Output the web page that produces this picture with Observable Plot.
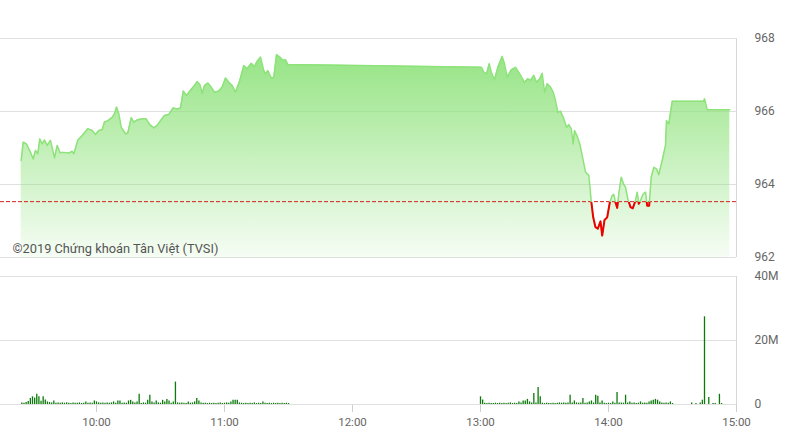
<!DOCTYPE html>
<html><head><meta charset="utf-8">
<script src="https://cdn.jsdelivr.net/npm/d3@7"></script>
<script src="https://cdn.jsdelivr.net/npm/@observablehq/plot@0.6"></script>
<style>
body{margin:0;background:#fff;font-family:Roboto,sans-serif;}
#chart{width:792px;height:445px;overflow:hidden;background:#fff}
#chart svg{display:block}
</style></head><body><div id="chart"></div>
<script>
const indexTimes = [
"09:24:42","09:25:38","09:27:11","09:29:04","09:30:20","09:31:24","09:32:29","09:33:25","09:34:33","09:35:38",
"09:36:53","09:38:26","09:40:19","09:41:35","09:42:48","09:44:40","09:47:01","09:48:37","09:49:22","09:51:14",
"09:53:18","09:55:55","09:57:59","09:59:32","10:01:05","10:02:40","10:03:45","10:05:18","10:07:22","10:08:26",
"10:09:23","10:10:27","10:11:35","10:13:36","10:14:40","10:16:16","10:17:29","10:19:05","10:21:25","10:23:18",
"10:24:59","10:26:51","10:28:27","10:30:00","10:31:53","10:33:53","10:35:57","10:37:50","10:39:23","10:40:38",
"10:42:11","10:44:04","10:45:37","10:47:12","10:48:25","10:49:33","10:50:38","10:52:10","10:53:46","10:55:19",
"10:57:20","10:58:55","11:00:28","11:02:01","11:03:37","11:05:09","11:07:10","11:09:03","11:10:38","11:12:31",
"11:14:04","11:15:20","11:16:53","11:18:25","11:19:13","11:20:18","11:21:53","11:23:07","11:24:23","11:25:55",
"11:27:31","11:28:36","11:29:40",
"13:00:28","13:01:33","13:02:49","13:04:05","13:05:01","13:06:34","13:08:07","13:10:10","13:11:15","13:12:31",
"13:14:23","13:16:24","13:18:25","13:20:38","13:22:10","13:23:26","13:24:59","13:26:15","13:27:48","13:28:55",
"13:30:00","13:31:16","13:32:49","13:34:05","13:35:09","13:36:14","13:37:30","13:39:03","13:40:19","13:41:23",
"13:42:31","13:43:27","13:44:04","13:45:20","13:46:33","13:48:08","13:49:13","13:50:46","13:51:53","13:52:50",
"13:53:54","13:54:59","13:56:15","13:57:03","13:58:08","13:59:23","14:00:37","14:01:44","14:02:29","14:03:17",
"14:04:05","14:04:50","14:05:57","14:07:10","14:07:58","14:09:03","14:10:19","14:11:23","14:12:39","14:13:27",
"14:14:12","14:15:00","14:16:16","14:17:21","14:18:08","14:19:04","14:20:01","14:21:14","14:22:30","14:23:35",
"14:25:10","14:26:43","14:27:11","14:28:16","14:29:51","14:44:40","14:45:00","14:46:16","14:56:52"];
const indexValues = [
964.66,965.16,965.11,964.88,964.70,964.93,964.84,965.25,965.11,965.22,
965.07,965.21,964.73,965.07,964.88,964.88,964.86,964.91,964.84,965.21,
965.34,965.53,965.48,965.37,965.48,965.50,965.71,965.75,965.84,965.94,
966.12,965.94,965.57,965.39,965.41,965.83,965.71,965.77,965.80,965.80,
965.64,965.55,965.62,965.75,965.89,965.92,966.10,966.07,966.10,966.56,
966.44,966.58,966.69,966.82,966.74,966.50,966.71,966.78,966.67,966.53,
966.56,966.67,966.92,966.80,966.71,966.53,966.85,967.26,967.17,967.32,
967.23,967.38,967.49,967.12,967.03,967.12,966.92,966.94,967.56,967.49,
967.40,967.42,967.29,
967.21,967.08,967.03,967.31,967.08,966.87,967.21,967.51,967.31,966.94,
967.14,967.21,967.03,966.80,966.90,966.85,966.99,966.80,966.90,967.05,
966.53,966.76,966.67,966.53,966.30,965.98,966.01,965.80,965.57,965.64,
965.53,965.11,965.48,965.32,965.11,964.66,964.34,964.25,963.56,963.10,
962.83,962.79,962.99,962.60,963.03,963.10,963.51,963.70,963.73,963.51,
963.36,963.74,964.20,964.00,963.93,963.61,963.38,963.35,963.56,963.79,
963.47,963.56,963.74,963.79,963.42,963.42,964.20,964.47,964.43,964.27,
964.66,965.07,965.75,965.66,966.28,966.28,966.35,966.05,966.05];
const referenceLevel = 963.53;
const priceTicks = [962, 964, 966, 968];
const volumeTicks = [0, 20, 40];
const hourTicks = ["10:00","11:00","12:00","13:00","14:00","15:00"];
const sessionStart = "09:15", sessionEnd = "15:00";

// volume in millions, one bar per minute
const volMorningStart = "09:25";
const volMorning = [
0.5,0.4,0.6,0.9,1.9,2.4,2.0,3.2,2.4,1.0,
2.4,1.4,0.8,0.6,0.5,1.1,0.4,0.5,0.4,0.5,
0.4,0.5,0.4,0.3,0.5,0.4,0.4,0.5,0.3,0.4,
0.8,0.4,0.5,0.4,1.1,0.8,0.5,0.4,0.5,0.4,
0.5,0.4,0.5,0.8,0.4,1.1,1.1,0.4,0.5,0.4,
1.1,1.3,0.8,0.5,0.8,3.2,0.3,0.5,0.4,1.3,
2.9,0.8,0.5,1.1,0.5,0.4,1.3,0.8,1.6,1.1,
0.4,0.8,7.0,0.5,0.4,0.5,0.4,0.3,0.8,0.4,
0.5,0.8,1.9,1.1,0.5,0.4,0.4,0.3,0.4,0.3,
0.4,0.3,0.4,0.5,0.3,0.4,0.5,0.4,0.8,1.3,
1.3,1.3,0.5,0.4,0.3,0.4,0.3,0.4,0.3,0.5,
0.3,0.4,0.3,0.8,0.4,0.3,0.4,0.3,0.4,0.3,
0.4,0.3,0.4,0.3,0.4,0.3];
const volAfternoonStart = "13:00";
const volAfternoon = [
2.4,1.4,0.4,0.3,0.4,0.3,0.3,0.4,0.3,0.4,
0.3,0.4,0.3,0.4,0.5,0.3,0.4,0.3,0.8,0.5,
1.1,1.1,1.6,0.8,0.5,3.4,0.5,5.3,2.4,0.4,
0.3,0.4,0.3,0.3,0.4,0.3,0.4,0.5,0.4,0.5,
0.4,0.5,2.9,0.5,1.1,0.5,0.4,0.5,1.9,0.4,
0.5,0.8,1.1,0.5,2.9,2.6,0.5,1.1,0.4,0.3,
0.4,0.3,0.8,0.4,3.75,0.5,0.5,0.4,2.9,0.5,
0.8,0.4,0.5,0.3,0.4,0.8,0.4,0.5,0.4,0.8,
1.1,1.35,1.6,1.35,0.8,0.5,0.4,0.5,0.4,0.8,
0.3];
const volCloseTimes = ["14:39","14:41","14:43","14:44","14:45","14:47","14:49","14:50","14:52","14:53"];
const volClose = [0.5,0.3,0.5,1.35,27.4,2.2,0.3,0.3,3.2,0.3];
const copyright = "©2019 Chứng khoán Tân Việt (TVSI)";

const parseT = s => new Date("2019-01-01T" + (s.length === 5 ? s + ":00" : s) + "Z");
const addMin = (s, i) => new Date(parseT(s).getTime() + i * 60000);
const xDomain = [parseT(sessionStart), parseT(sessionEnd)];

const series = indexTimes.map((t, i) => ({t: parseT(t), v: indexValues[i]}));
const volume = [
  ...volMorning.map((v, i) => ({t: addMin(volMorningStart, i), v})),
  ...volAfternoon.map((v, i) => ({t: addMin(volAfternoonStart, i), v})),
  ...volClose.map((v, i) => ({t: parseT(volCloseTimes[i]), v}))
];

const defsMark = (index, scales, values, dim) => {
  const refY = scales.y(referenceLevel);
  const off = (refY / dim.height).toFixed(4);
  const g = document.createElementNS("http://www.w3.org/2000/svg", "defs");
  g.innerHTML = `<linearGradient id="areaFill" x1="0" y1="0" x2="0" y2="1">
      <stop offset="0" stop-color="#8de27a" stop-opacity="0.92"/>
      <stop offset="1" stop-color="#8de27a" stop-opacity="0.08"/>
    </linearGradient>
    <linearGradient id="redBelow" gradientUnits="userSpaceOnUse" x1="0" y1="0" x2="0" y2="${dim.height}">
      <stop offset="${off}" stop-color="#ee0000" stop-opacity="0"/>
      <stop offset="${off}" stop-color="#ee0000" stop-opacity="1"/>
    </linearGradient>`;
  return g;
};

const baseStyle = {fontFamily: "Roboto, sans-serif", fontSize: "12px", color: "#666", background: "#fff", overflow: "visible"};

const topPlot = Plot.plot({
  width: 792, height: 265, marginTop: 38, marginBottom: 8, marginLeft: 0, marginRight: 56,
  style: baseStyle,
  x: {type: "utc", domain: xDomain, axis: null},
  y: {domain: [962, 968], axis: "right", ticks: priceTicks, tickFormat: d => String(d), tickSize: 0, tickPadding: 18, label: null},
  marks: [
    defsMark,
    Plot.ruleY(priceTicks, {stroke: "#e0e0e0"}),
    Plot.areaY(series, {x: "t", y1: 962, y2: "v", fill: "url(#areaFill)"}),
    Plot.ruleX([xDomain[1]], {stroke: "#d8d8d8"}),
    Plot.ruleY([referenceLevel], {stroke: "#d41f1f", strokeDasharray: "4,2"}),
    Plot.line(series, {x: "t", y: "v", stroke: "#8de27a", strokeWidth: 1.5}),
    Plot.line(series, {x: "t", y: "v", stroke: "url(#redBelow)", strokeWidth: 2}),
    Plot.text([copyright], {text: d => d, frameAnchor: "bottom-left", dx: 12, dy: -9, lineAnchor: "middle", textAnchor: "start", fill: "#555", fontSize: 12.8})
  ]
});

const bottomPlot = Plot.plot({
  width: 792, height: 180, marginTop: 11, marginBottom: 41, marginLeft: 0, marginRight: 56,
  style: baseStyle,
  x: {type: "utc", domain: xDomain, ticks: hourTicks.map(parseT), tickFormat: d3.utcFormat("%H:%M"), tickSize: 8, tickPadding: 5, label: null},
  y: {domain: [0, 40], axis: "right", ticks: volumeTicks, tickFormat: d => d === 0 ? "0" : d + "M", tickSize: 0, tickPadding: 18, label: null},
  marks: [
    Plot.ruleY(volumeTicks, {stroke: "#e0e0e0"}),
    Plot.ruleX([xDomain[1]], {stroke: "#d8d8d8"}),
    Plot.ruleX(volume, {x: "t", y1: 0, y2: "v", stroke: "#0a7a0a", strokeWidth: 1.3})
  ]
});
const xt = bottomPlot.querySelector('g[aria-label="x-axis tick"]');
if (xt) xt.setAttribute("stroke", "#cfcfcf");
const xl = bottomPlot.querySelector('g[aria-label="x-axis tick label"]');
if (xl) xl.setAttribute("font-size", "11.5");

const chart = document.getElementById("chart");
chart.appendChild(topPlot);
chart.appendChild(bottomPlot);
</script></body></html>
